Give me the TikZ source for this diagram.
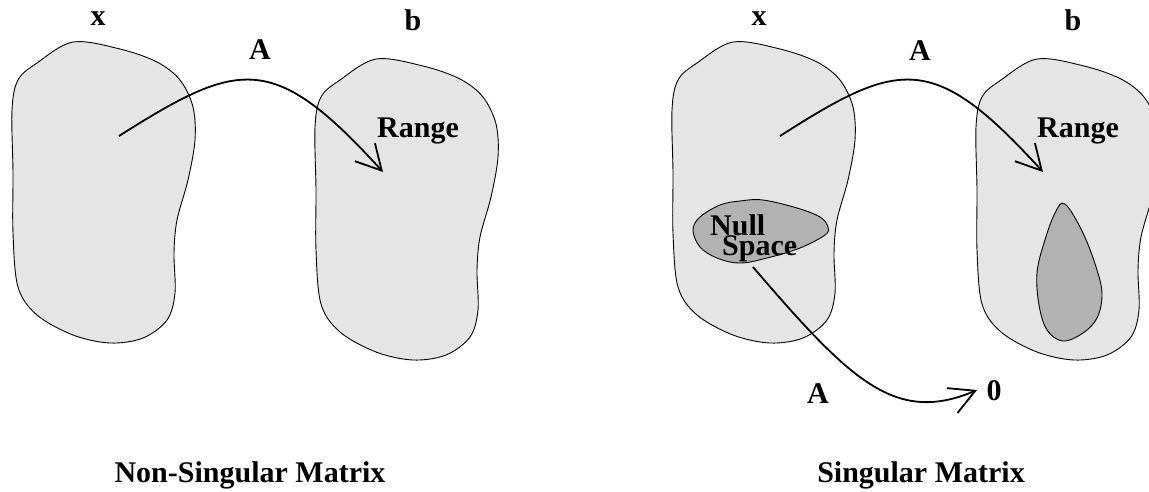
\documentclass[tikz,border=0pt]{standalone}
\usepackage{fontspec}
\setmainfont{Liberation Serif}
\usetikzlibrary{arrows.meta}
\definecolor{spacegray}{gray}{0.9}
\definecolor{nullgray}{gray}{0.7}
\begin{document}
\begin{tikzpicture}[x=1pt,y=-1pt,
  spaceblob/.style={draw=black, line width=0.9pt, fill=spacegray},
  nullblob/.style={draw=black, line width=0.9pt, fill=nullgray},
  lbl/.style={font=\bfseries\fontsize{30}{30}\selectfont, inner sep=0pt, anchor=base},
  lblw/.style={lbl, anchor=base west},
  maparrow/.style={line width=1.8pt, -{Straight Barb[length=25pt,width=27pt]}},
  blobshape/.pic={\path[spaceblob] plot[smooth cycle, tension=0.55] coordinates {
    (73,42) (120,49) (157,62) (180,80) (193,107) (195,140) (188,180) (177,220)
    (174,253) (175,293) (167,320) (143,338) (110,343) (73,335) (37,315)
    (18,287) (13,233) (13,173) (12,110) (18,80) (37,63)};}
]
\useasboundingbox (0,0) rectangle (1149,491);
\clip (0,0) rectangle (1149,491);
\fill[white] (0,0) rectangle (1149,491);

% space blobs
\pic at (0,0) {blobshape};
\pic at (303,17) {blobshape};
\pic at (660,0) {blobshape};
\pic at (964,17) {blobshape};

% null space and its image region
\path[nullblob] plot[smooth cycle, tension=0.6] coordinates {
  (763,200) (797,208) (820,217) (828,227) (825,235) (800,248) (767,258)
  (740,263) (717,258) (700,247) (693,230) (700,217) (720,205) (740,201)};
\path[nullblob] plot[smooth cycle, tension=0.6] coordinates {
  (1065,204) (1083,233) (1097,270) (1102,295) (1097,318) (1083,333) (1063,341)
  (1047,330) (1039,305) (1037,273) (1044,243) (1055,213)};

% labels
\node[lbl] (x1) at (98,25) {x};
\node[lbl] (b1) at (413,30) {b};
\node[lbl] (A1) at (260,59) {A};
\node[lblw] (R1) at (377,137) {Range};
\node[lbl] (x2) at (759,25) {x};
\node[lbl] (b2) at (1073,30) {b};
\node[lbl] (A2) at (920,60) {A};
\node[lblw] (R2) at (1037,137) {Range};
\node[lblw] (null) at (710,235) {Null};
\node[lblw] (space) at (722,255) {Space};
\node[lbl] (A3) at (818,403) {A};
\node[lbl] (zero) at (994,400) {0};
\node[lbl] (cap1) at (250,482) {Non-Singular Matrix};
\node[lbl] (cap2) at (921,482) {Singular Matrix};

% mapping arrows
\coordinate (s1) at (119,136);
\coordinate (t1) at (383,172);
\coordinate (s2) at (780,136);
\coordinate (t2) at (1043,172);
\coordinate (s3) at (753,267);
\coordinate (t3) at (977,390);
\draw[maparrow] (s1) .. controls (239,60) and (273,51) .. (t1);
\draw[maparrow] (s2) .. controls (899,60) and (933,51) .. (t2);
\draw[maparrow] (s3) .. controls (850,380) and (895,425) .. (t3);
\end{tikzpicture}
\end{document}
